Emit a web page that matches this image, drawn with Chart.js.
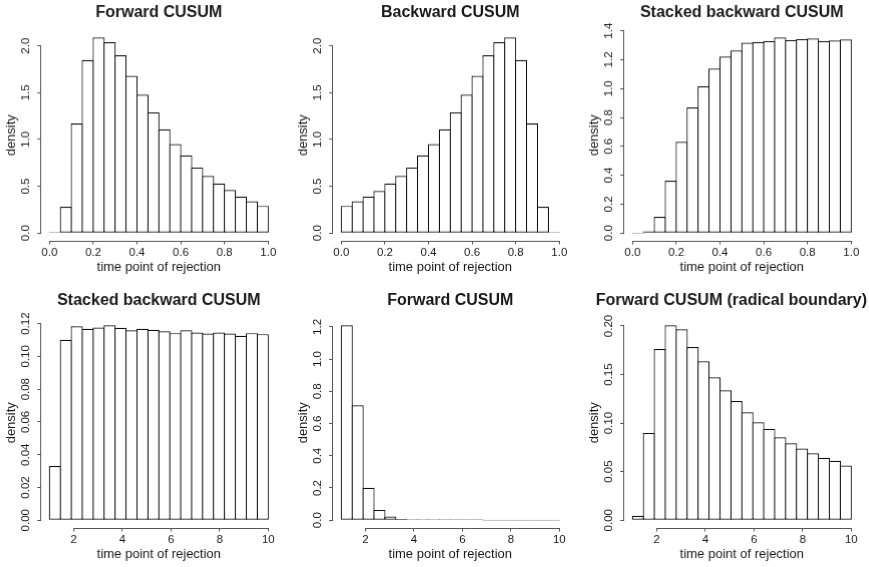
<!DOCTYPE html>
<html>
<head>
<meta charset="utf-8">
<script src="https://cdn.jsdelivr.net/npm/chart.js@4.4.1/dist/chart.umd.min.js"></script>
<style>
  html, body { margin: 0; padding: 0; background: #fff; overflow: hidden; }
  #wrap { position: relative; width: 869px; height: 567px; overflow: hidden; }
  .panel { position: absolute; width: 291.5px; height: 283.5px; }
</style>
</head>
<body>
<div id="wrap">
  <div class="panel" style="left:0px;top:0px"><canvas id="c1"></canvas></div>
  <div class="panel" style="left:291.5px;top:0px"><canvas id="c2"></canvas></div>
  <div class="panel" style="left:583px;top:0px"><canvas id="c3"></canvas></div>
  <div class="panel" style="left:0px;top:287.5px"><canvas id="c4"></canvas></div>
  <div class="panel" style="left:291.5px;top:287.5px"><canvas id="c5"></canvas></div>
  <div class="panel" style="left:583px;top:287.5px"><canvas id="c6"></canvas></div>
</div>
<script>
// histogram breaks
const breaksUnit = [0, 0.05, 0.1, 0.15, 0.2, 0.25, 0.3, 0.35, 0.4, 0.45, 0.5,
  0.55, 0.6, 0.65, 0.7, 0.75, 0.8, 0.85, 0.9, 0.95, 1];
const breaksTime = [1, 1.45, 1.9, 2.35, 2.8, 3.25, 3.7, 4.15, 4.6, 5.05, 5.5,
  5.95, 6.4, 6.85, 7.3, 7.75, 8.2, 8.65, 9.1, 9.55, 10];

// densities per bin
const forwardUnit = [0.004, 0.28, 1.17, 1.85, 2.09, 2.04, 1.90, 1.68, 1.48, 1.29,
  1.11, 0.95, 0.83, 0.70, 0.61, 0.53, 0.46, 0.39, 0.34, 0.29];
const backwardUnit = [0.29, 0.34, 0.39, 0.45, 0.53, 0.61, 0.70, 0.83, 0.95, 1.11,
  1.29, 1.48, 1.68, 1.90, 2.04, 2.09, 1.85, 1.17, 0.28, 0.004];
const stackedUnit = [0, 0.012, 0.113, 0.363, 0.632, 0.870, 1.016, 1.139, 1.222, 1.264,
  1.317, 1.322, 1.329, 1.354, 1.336, 1.343, 1.347, 1.329, 1.333, 1.340];
const stackedTime = [0.0331, 0.1101, 0.1184, 0.1169, 0.1177, 0.1190, 0.1175, 0.1159, 0.1169, 0.1163,
  0.1153, 0.1142, 0.1159, 0.1146, 0.1140, 0.1146, 0.1140, 0.1126, 0.1142, 0.1136];
const forwardTime = [1.21, 0.714, 0.201, 0.064, 0.023, 0.008, 0.004, 0.002, 0.0015, 0.001,
  0.001, 0.0008, 0.0005, 0, 0, 0, 0, 0, 0, 0];
const radicalTime = [0.0045, 0.0899, 0.1763, 0.2007, 0.1966, 0.1784, 0.1636, 0.1472, 0.1338, 0.1228,
  0.1111, 0.1009, 0.0940, 0.0854, 0.0792, 0.0738, 0.0690, 0.0642, 0.0611, 0.0563];

// tick values and labels
const xTicksUnit = [0, 0.2, 0.4, 0.6, 0.8, 1.0];
const xLabelsUnit = ["0.0", "0.2", "0.4", "0.6", "0.8", "1.0"];
const xTicksTime = [2, 4, 6, 8, 10];
const xLabelsTime = ["2", "4", "6", "8", "10"];
const yTicks20 = [0, 0.5, 1.0, 1.5, 2.0];
const yLabels20 = ["0.0", "0.5", "1.0", "1.5", "2.0"];
const yTicks14 = [0, 0.2, 0.4, 0.6, 0.8, 1.0, 1.2, 1.4];
const yLabels14 = ["0.0", "0.2", "0.4", "0.6", "0.8", "1.0", "1.2", "1.4"];
const yTicks012 = [0, 0.02, 0.04, 0.06, 0.08, 0.10, 0.12];
const yLabels012 = ["0.00", "0.02", "0.04", "0.06", "0.08", "0.10", "0.12"];
const yTicks12 = [0, 0.2, 0.4, 0.6, 0.8, 1.0, 1.2];
const yLabels12 = ["0.0", "0.2", "0.4", "0.6", "0.8", "1.0", "1.2"];
const yTicks020 = [0, 0.05, 0.10, 0.15, 0.20];
const yLabels020 = ["0.00", "0.05", "0.10", "0.15", "0.20"];

const FONT = "'Liberation Sans', Arial, Helvetica, sans-serif";
const TEXT = "#1a1a1a";
const AXIS = "#555";
const BAR = "#111";
const BAR_LINE = 1.2;
const TICK_SIZE = 11.5;
const PANEL_W = 291.5, PLOT_LEFT = 40.6, PLOT_RIGHT = 276, PLOT_TOP = 29.5;
const TITLE_Y = 13;

const measure = document.createElement("canvas").getContext("2d");
function widest(labels) {
  measure.font = "normal " + TICK_SIZE + "px " + FONT;
  return Math.max(...labels.map(l => measure.measureText(l).width));
}

function align(p) { return Math.round(p - 0.5) + 0.5; }

// R style axis lines: only from first to last tick
const rAxisLines = {
  id: "rAxisLines",
  afterDraw(chart) {
    const { ctx, chartArea, scales } = chart;
    const xs = scales.x, ys = scales.y;
    ctx.save();
    ctx.strokeStyle = AXIS;
    ctx.lineWidth = 1;
    ctx.beginPath();
    const by = align(chartArea.bottom);
    ctx.moveTo(xs.getPixelForValue(xs.ticks[0].value), by);
    ctx.lineTo(xs.getPixelForValue(xs.ticks[xs.ticks.length - 1].value), by);
    const lx = align(chartArea.left);
    ctx.moveTo(lx, ys.getPixelForValue(ys.ticks[0].value));
    ctx.lineTo(lx, ys.getPixelForValue(ys.ticks[ys.ticks.length - 1].value));
    ctx.stroke();
    ctx.restore();
  }
};

// main title centred over the plot region, kept inside the page
const rTitle = {
  id: "rTitle",
  afterDraw(chart, args, opts) {
    const { ctx, chartArea } = chart;
    ctx.save();
    ctx.font = "bold 16px " + FONT;
    ctx.fillStyle = TEXT;
    ctx.textAlign = "center";
    ctx.textBaseline = "middle";
    const w = ctx.measureText(opts.text).width;
    let cx = (chartArea.left + chartArea.right) / 2;
    if (cx + w / 2 > opts.rightLimit) cx = opts.rightLimit - w / 2;
    ctx.fillText(opts.text, cx, TITLE_Y);
    ctx.restore();
  }
};

function histPanel(id, title, breaks, values, xTicks, xLabels, yTicks, yLabels) {
  const canvas = document.getElementById(id);
  const pageW = document.getElementById("wrap").clientWidth;
  const n = values.length;
  const xSpan = breaks[n] - breaks[0];
  const xMin = breaks[0] - 0.04 * xSpan, xMax = breaks[n] + 0.04 * xSpan;
  const top = Math.max(...values);
  const yMin = -0.04 * top, yMax = 1.04 * top;
  const binPx = (breaks[1] - breaks[0]) / (xMax - xMin) * (PLOT_RIGHT - PLOT_LEFT);
  const yPad = 10.8 - widest(yLabels) / 2;

  return new Chart(canvas, {
    type: "bar",
    data: {
      datasets: [{
        data: values.map((v, i) => ({ x: (breaks[i] + breaks[i + 1]) / 2, y: v })),
        backgroundColor: "#fff",
        borderColor: c => (c.raw && c.raw.y === 0 ? "#9a9a9a" : BAR),
        borderWidth: BAR_LINE,
        borderSkipped: false,
        minBarLength: 1,
        barPercentage: 1 + BAR_LINE / binPx,
        categoryPercentage: 1,
      }],
    },
    options: {
      animation: false,
      responsive: true,
      maintainAspectRatio: false,
      layout: { padding: { left: 0, top: PLOT_TOP, right: PANEL_W - PLOT_RIGHT, bottom: 0 } },
      plugins: {
        legend: { display: false },
        tooltip: { enabled: false },
        title: { display: false },
        rTitle: { text: title, rightLimit: pageW - canvas.parentNode.offsetLeft - 3 },
      },
      scales: {
        x: {
          type: "linear",
          min: xMin,
          max: xMax,
          offset: false,
          afterBuildTicks: s => { s.ticks = xTicks.map(v => ({ value: v })); },
          afterFit: s => { s.height = 43.5; },
          grid: { drawOnChartArea: false, drawTicks: true, tickLength: 3.5, color: AXIS, offset: false },
          border: { display: false },
          ticks: {
            autoSkip: false,
            maxRotation: 0,
            padding: 1,
            color: TEXT,
            font: { family: FONT, size: TICK_SIZE },
            callback: (v, i) => xLabels[i],
          },
          title: {
            display: true,
            text: "time point of rejection",
            color: TEXT,
            font: { family: FONT, size: 13 },
            padding: { top: 0, bottom: 9 },
          },
        },
        y: {
          type: "linear",
          min: yMin,
          max: yMax,
          afterBuildTicks: s => { s.ticks = yTicks.map(v => ({ value: v })); },
          afterFit: s => { s.width = PLOT_LEFT; },
          grid: { drawOnChartArea: false, drawTicks: true, tickLength: 3.5, color: AXIS },
          border: { display: false },
          ticks: {
            autoSkip: false,
            minRotation: 90,
            maxRotation: 90,
            crossAlign: "center",
            padding: yPad,
            color: TEXT,
            font: { family: FONT, size: TICK_SIZE },
            callback: (v, i) => yLabels[i],
          },
          title: {
            display: true,
            text: "density",
            color: TEXT,
            font: { family: FONT, size: 13 },
            padding: { top: 3.9, bottom: 0 },
          },
        },
      },
    },
    plugins: [rAxisLines, rTitle],
  });
}

histPanel("c1", "Forward CUSUM", breaksUnit, forwardUnit, xTicksUnit, xLabelsUnit, yTicks20, yLabels20);
histPanel("c2", "Backward CUSUM", breaksUnit, backwardUnit, xTicksUnit, xLabelsUnit, yTicks20, yLabels20);
histPanel("c3", "Stacked backward CUSUM", breaksUnit, stackedUnit, xTicksUnit, xLabelsUnit, yTicks14, yLabels14);
histPanel("c4", "Stacked backward CUSUM", breaksTime, stackedTime, xTicksTime, xLabelsTime, yTicks012, yLabels012);
histPanel("c5", "Forward CUSUM", breaksTime, forwardTime, xTicksTime, xLabelsTime, yTicks12, yLabels12);
histPanel("c6", "Forward CUSUM (radical boundary)", breaksTime, radicalTime, xTicksTime, xLabelsTime, yTicks020, yLabels020);
</script>
</body>
</html>
